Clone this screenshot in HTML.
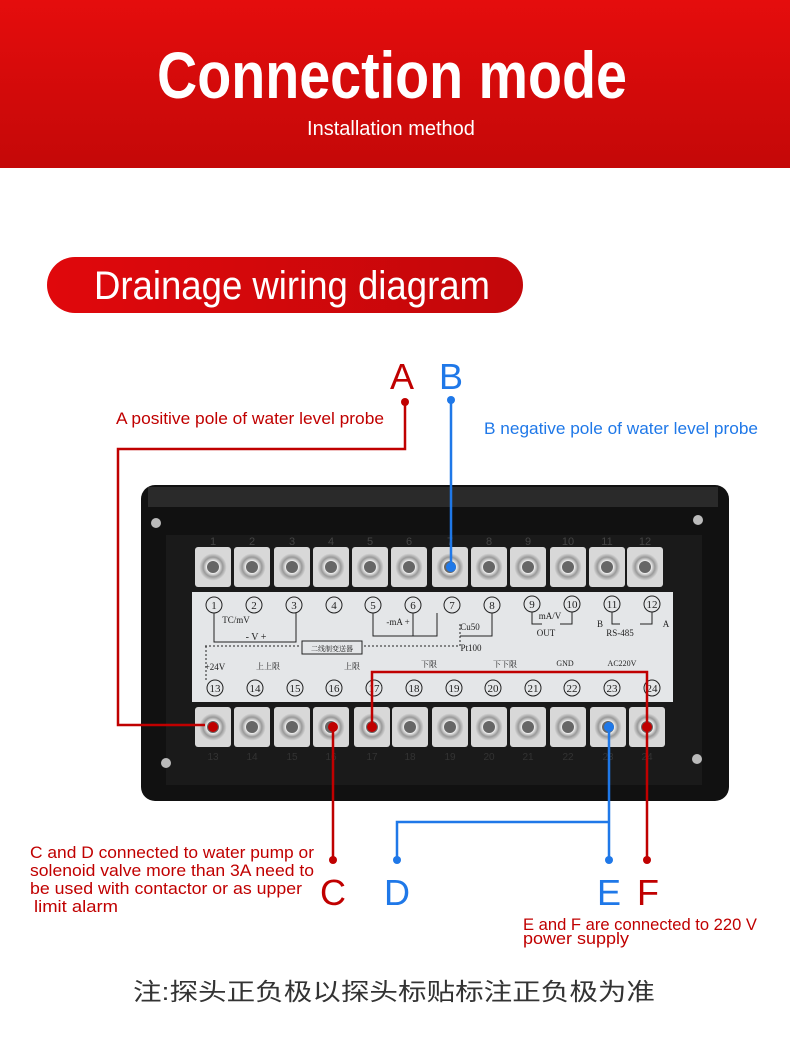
<!DOCTYPE html><html><head><meta charset="utf-8"><style>
body{margin:0;width:790px;height:1035px;background:#fff;overflow:hidden;font-family:"Liberation Sans","Noto Sans CJK SC",sans-serif}
</style></head><body>
<svg width="790" height="1035" xmlns="http://www.w3.org/2000/svg" font-family="Liberation Sans, Noto Sans CJK SC, sans-serif">
<defs><linearGradient id="hg" x1="0" y1="0" x2="0" y2="1"><stop offset="0" stop-color="#e50d0d"/><stop offset="1" stop-color="#c40808"/></linearGradient>
<linearGradient id="pg" x1="0" y1="0" x2="1" y2="0"><stop offset="0" stop-color="#e0080c"/><stop offset="1" stop-color="#c3070a"/></linearGradient>
<radialGradient id="sc"><stop offset="0" stop-color="#777"/><stop offset=".45" stop-color="#eee"/><stop offset=".7" stop-color="#999"/><stop offset="1" stop-color="#ddd"/></radialGradient>
<g id="tr"><rect x="-18" y="-20" width="36" height="40" rx="3" fill="#d8d8d8"/><circle r="14" fill="url(#sc)"/><circle r="6" fill="#666"/></g>
</defs>
<rect width="790" height="168" fill="url(#hg)"/>
<text x="392" y="98" text-anchor="middle" fill="#fff" font-size="66" font-weight="bold" textLength="470" lengthAdjust="spacingAndGlyphs">Connection mode</text>
<text x="391" y="135" text-anchor="middle" fill="#fff" font-size="20">Installation method</text>
<rect x="47" y="257" width="476" height="56" rx="28" fill="url(#pg)"/>
<text x="292" y="299" text-anchor="middle" fill="#fff" font-size="40" textLength="396" lengthAdjust="spacingAndGlyphs">Drainage wiring diagram</text>
<rect x="141" y="485" width="588" height="316" rx="14" fill="#111"/>
<rect x="148" y="487" width="570" height="20" fill="#2a2a2a"/>
<rect x="166" y="535" width="536" height="250" fill="#1a1a1a"/>
<circle cx="156" cy="523" r="5" fill="#bbb"/><circle cx="698" cy="520" r="5" fill="#bbb"/>
<circle cx="166" cy="763" r="5" fill="#bbb"/><circle cx="697" cy="759" r="5" fill="#bbb"/>
<g font-size="11" fill="#444" text-anchor="middle">
<text x="213" y="545">1</text><text x="252" y="545">2</text><text x="292" y="545">3</text><text x="331" y="545">4</text><text x="370" y="545">5</text><text x="409" y="545">6</text><text x="450" y="545">7</text><text x="489" y="545">8</text><text x="528" y="545">9</text><text x="568" y="545">10</text><text x="607" y="545">11</text><text x="645" y="545">12</text></g>
<use href="#tr" x="213" y="567"/><use href="#tr" x="252" y="567"/><use href="#tr" x="292" y="567"/><use href="#tr" x="331" y="567"/><use href="#tr" x="370" y="567"/><use href="#tr" x="409" y="567"/><use href="#tr" x="450" y="567"/><use href="#tr" x="489" y="567"/><use href="#tr" x="528" y="567"/><use href="#tr" x="568" y="567"/><use href="#tr" x="607" y="567"/><use href="#tr" x="645" y="567"/>
<use href="#tr" x="213" y="727"/><use href="#tr" x="252" y="727"/><use href="#tr" x="292" y="727"/><use href="#tr" x="331" y="727"/><use href="#tr" x="372" y="727"/><use href="#tr" x="410" y="727"/><use href="#tr" x="450" y="727"/><use href="#tr" x="489" y="727"/><use href="#tr" x="528" y="727"/><use href="#tr" x="568" y="727"/><use href="#tr" x="608" y="727"/><use href="#tr" x="647" y="727"/>
<rect x="192" y="592" width="481" height="110" fill="#e4e6e8"/>
<g font-family="Liberation Serif, Noto Serif CJK SC, serif" font-size="11" fill="#222" text-anchor="middle">
<g fill="none" stroke="#222" stroke-width="1">
<circle cx="214" cy="605" r="8"/><circle cx="254" cy="605" r="8"/><circle cx="294" cy="605" r="8"/><circle cx="334" cy="605" r="8"/><circle cx="373" cy="605" r="8"/><circle cx="413" cy="605" r="8"/><circle cx="452" cy="605" r="8"/><circle cx="492" cy="605" r="8"/><circle cx="532" cy="604" r="8"/><circle cx="572" cy="604" r="8"/><circle cx="612" cy="604" r="8"/><circle cx="652" cy="604" r="8"/>
<circle cx="215" cy="688" r="8"/><circle cx="255" cy="688" r="8"/><circle cx="295" cy="688" r="8"/><circle cx="334" cy="688" r="8"/><circle cx="374" cy="688" r="8"/><circle cx="414" cy="688" r="8"/><circle cx="454" cy="688" r="8"/><circle cx="493" cy="688" r="8"/><circle cx="533" cy="688" r="8"/><circle cx="572" cy="688" r="8"/><circle cx="612" cy="688" r="8"/><circle cx="652" cy="688" r="8"/>
<path d="M214 613V642H296V613M373 613V636H437V613M413 613V636M492 613V636H460M532 612V624H542M572 612V624H560M612 612V624H620M652 612V624H640"/>
<rect x="302" y="641" width="60" height="13"/><path d="M205 646H300M364 646H460V624" stroke-dasharray="2 2"/><path d="M206 646V680" stroke-dasharray="2 2"/>
</g>
<text x="214" y="609">1</text><text x="254" y="609">2</text><text x="294" y="609">3</text><text x="334" y="609">4</text><text x="373" y="609">5</text><text x="413" y="609">6</text><text x="452" y="609">7</text><text x="492" y="609">8</text><text x="532" y="608">9</text><text x="572" y="608">10</text><text x="612" y="608">11</text><text x="652" y="608">12</text>
<text x="215" y="692">13</text><text x="255" y="692">14</text><text x="295" y="692">15</text><text x="334" y="692">16</text><text x="374" y="692">17</text><text x="414" y="692">18</text><text x="454" y="692">19</text><text x="493" y="692">20</text><text x="533" y="692">21</text><text x="572" y="692">22</text><text x="612" y="692">23</text><text x="652" y="692">24</text>
<text x="236" y="623" font-size="9">TC/mV</text><text x="256" y="640" font-size="10">- V +</text><text x="398" y="625" font-size="9">-mA +</text><text x="470" y="630" font-size="9">Cu50</text><text x="471" y="651" font-size="9">Pt100</text>
<text x="550" y="619" font-size="9">mA/V</text><text x="546" y="636" font-size="9">OUT</text><text x="620" y="636" font-size="9">RS-485</text><text x="600" y="627" font-size="9">B</text><text x="666" y="627" font-size="9">A</text>
<text x="332" y="651" font-size="7">二线制变送器</text>
<text x="215" y="670" font-size="9">+24V</text><text x="268" y="669" font-size="8">上上限</text><text x="352" y="669" font-size="8">上限</text><text x="429" y="667" font-size="8">下限</text><text x="505" y="667" font-size="8">下下限</text><text x="565" y="666" font-size="8">GND</text><text x="622" y="666" font-size="8">AC220V</text>
</g>
<g font-size="10" fill="#333" text-anchor="middle"><text x="213" y="760">13</text><text x="252" y="760">14</text><text x="292" y="760">15</text><text x="331" y="760">16</text><text x="372" y="760">17</text><text x="410" y="760">18</text><text x="450" y="760">19</text><text x="489" y="760">20</text><text x="528" y="760">21</text><text x="568" y="760">22</text><text x="608" y="760">23</text><text x="647" y="760">24</text></g>
<g fill="none" stroke-width="2.5">
<path d="M405 402V449H118V725H205" stroke="#c00000"/>
<path d="M333 727V860" stroke="#c00000"/>
<path d="M372 727V672H647V860" stroke="#c00000"/>
<path d="M451 400V567" stroke="#1f78e8"/>
<path d="M609 727V860M609 822H397V860" stroke="#1f78e8"/>
</g>
<g fill="#c00000"><circle cx="405" cy="402" r="4"/><circle cx="213" cy="727" r="5"/><circle cx="333" cy="727" r="5"/><circle cx="372" cy="727" r="5"/><circle cx="647" cy="727" r="5"/><circle cx="333" cy="860" r="4"/><circle cx="647" cy="860" r="4"/></g>
<g fill="#1f78e8"><circle cx="451" cy="400" r="4"/><circle cx="451" cy="567" r="5"/><circle cx="609" cy="727" r="5"/><circle cx="609" cy="860" r="4"/><circle cx="397" cy="860" r="4"/></g>
<g font-size="36" text-anchor="middle"><text x="402" y="389" fill="#c00000">A</text><text x="451" y="389" fill="#1f78e8">B</text><text x="333" y="905" fill="#c00000">C</text><text x="397" y="905" fill="#1f78e8">D</text><text x="609" y="905" fill="#1f78e8">E</text><text x="648" y="905" fill="#c00000">F</text></g>
<g font-size="17" lengthAdjust="spacingAndGlyphs">
<text x="116" y="424" fill="#c00000" textLength="268" lengthAdjust="spacingAndGlyphs">A positive pole of water level probe</text>
<text x="484" y="434" fill="#1f78e8" textLength="274" lengthAdjust="spacingAndGlyphs">B negative pole of water level probe</text>
<g fill="#c00000"><text x="30" y="858" textLength="284" lengthAdjust="spacingAndGlyphs">C and D connected to water pump or</text><text x="30" y="876" textLength="284" lengthAdjust="spacingAndGlyphs">solenoid  valve more than 3A need to</text><text x="30" y="894" textLength="272" lengthAdjust="spacingAndGlyphs">be used with  contactor or as upper</text><text x="34" y="912" textLength="84" lengthAdjust="spacingAndGlyphs">limit alarm</text>
<text x="523" y="930" textLength="234" lengthAdjust="spacingAndGlyphs">E and F are connected to 220 V</text><text x="523" y="944" textLength="106" lengthAdjust="spacingAndGlyphs">power supply</text></g>
</g>
<text x="394" y="1000" text-anchor="middle" font-size="24" fill="#333" textLength="522" lengthAdjust="spacingAndGlyphs">注:探头正负极以探头标贴标注正负极为准</text>
</svg>
</body></html>
